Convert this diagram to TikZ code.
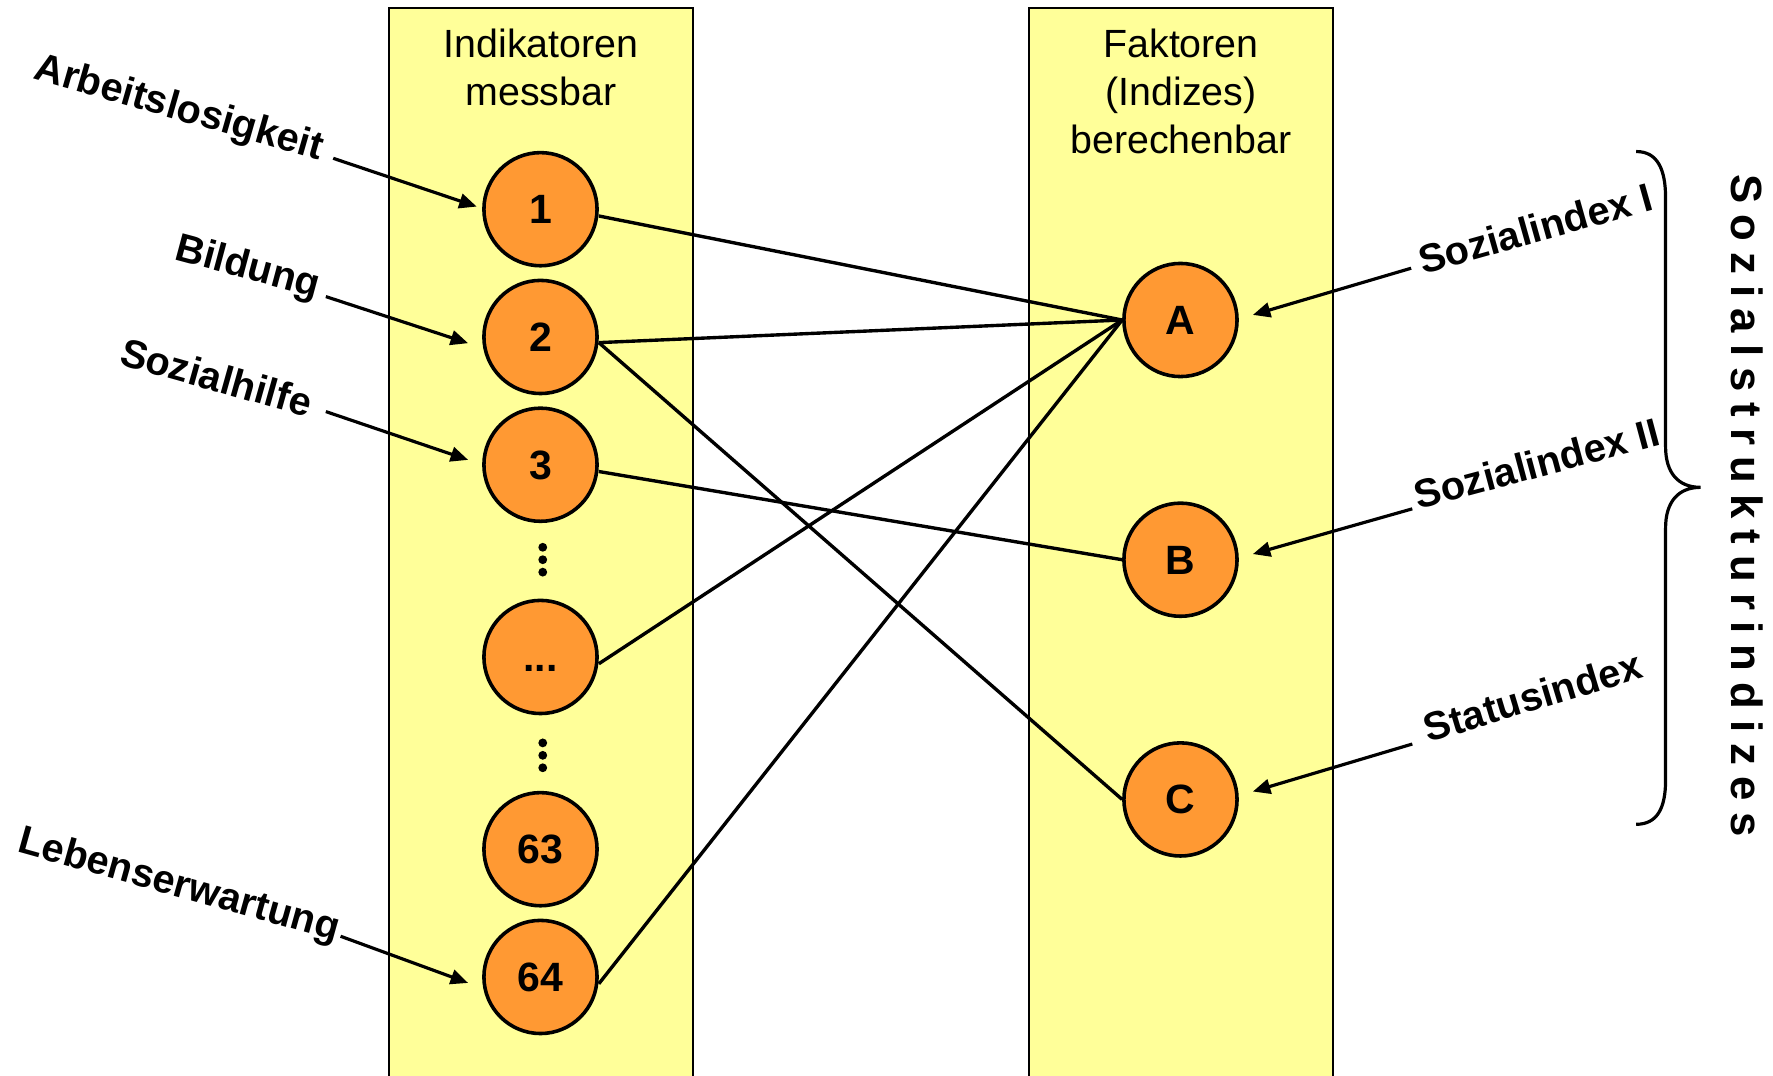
\documentclass[tikz,border=0pt]{standalone}
\usepackage{fontspec}
\setmainfont{Liberation Sans}
\usetikzlibrary{arrows.meta}
\definecolor{colyellow}{HTML}{FFFF99}
\definecolor{circorange}{HTML}{FF9933}
\newcommand{\lsp}{\kern 2.8pt}
\begin{document}
\begin{tikzpicture}[x=0.01cm,y=-0.01cm,
  col/.style={fill=colyellow},
  colborder/.style={line width=0.5pt},
  ind/.style={circle,draw,line width=0.9pt,fill=circorange,minimum size=1cm,inner sep=0pt,
    font=\fontsize{10.3}{11}\selectfont\bfseries,text height=7.3pt,text depth=0pt},
  link/.style={line width=0.85pt},
  lbl/.style={font=\fontsize{10}{11}\selectfont\bfseries,inner sep=0pt,anchor=base west},
  lblarrow/.style={line width=0.8pt,-{Triangle[length=4.4pt,width=3.7pt]}},
  title/.style={font=\fontsize{9.9}{12}\selectfont,align=center,inner sep=0pt,anchor=north},
  dotstyle/.style={circle,fill=black,inner sep=0pt,minimum size=0.078cm},
  bracestyle/.style={line width=0.8pt}
]
\useasboundingbox (0,0) rectangle (1568,951);

% columns
\fill[col] (344,7) rectangle (613,965);
\draw[colborder] (344,965) -- (344,7) -- (613,7) -- (613,965);
\fill[col] (910,7) rectangle (1179,965);
\draw[colborder] (910,965) -- (910,7) -- (1179,7) -- (1179,965);

% titles
\node[title] (t1) at (478.5,25) {Indikatoren\\messbar};
\node[title] (t2) at (1044.5,25) {Faktoren\\(Indizes)\\berechenbar};

% indicator circles
\node[ind] (n1) at (478,185) {1};
\node[ind] (n2) at (478,298) {2};
\node[ind] (n3) at (478,411) {3};
\node[ind] (nd) at (478,581) {...};
\node[ind] (n63) at (478,751) {63};
\node[ind] (n64) at (478,864) {64};

% vertical dots
\node[dotstyle] (d1) at (480,484) {};
\node[dotstyle] (d2) at (480,495) {};
\node[dotstyle] (d3) at (480,506) {};
\node[dotstyle] (d4) at (480,657) {};
\node[dotstyle] (d5) at (480,668) {};
\node[dotstyle] (d6) at (480,679) {};

% factor circles
\node[ind] (A) at (1044,283) {A};
\node[ind] (B) at (1044,495) {B};
\node[ind] (C) at (1044,707) {C};

% links
\draw[link] (n1.east) ++(0,6) -- (A.west);
\draw[link] (n2.east) ++(0,5) -- (A.west);
\draw[link] (n2.east) ++(0,5) -- (C.west);
\draw[link] (n3.east) ++(0,6) -- (B.west);
\draw[link] (nd.east) ++(0,6) -- (A.west);
\draw[link] (n64.east) ++(0,6) -- (A.west);

% left labels
\node[lbl,rotate=-16] (l1) at (28,69) {Arbeitslosigkeit};
\node[lbl,rotate=-15] (l2) at (152.6,229.3) {Bildung};
\node[lbl,rotate=-15.7] (l3) at (103.7,321.8) {Sozialhilfe};
\node[lbl,rotate=-15.6] (l4) at (14,753) {Lebenserwartung};

\coordinate (a1s) at (294.7,140);  \coordinate (a1e) at (421.6,182.7);
\coordinate (a2s) at (288.2,262.3); \coordinate (a2e) at (414,303.5);
\coordinate (a3s) at (288.2,364);  \coordinate (a3e) at (414,406.7);
\coordinate (a4s) at (301.2,828);  \coordinate (a4e) at (414,869.3);
\draw[lblarrow] (a1s) -- (a1e);
\draw[lblarrow] (a2s) -- (a2e);
\draw[lblarrow] (a3s) -- (a3e);
\draw[lblarrow] (a4s) -- (a4e);

% right labels
\node[lbl,rotate=15.7] (r1) at (1258,243) {Sozialindex I};
\node[lbl,rotate=15] (r2) at (1254,451) {Sozialindex II};
\node[lbl,rotate=16.8] (r3) at (1263,657) {Statusindex};

\coordinate (b1s) at (1248,237.2); \coordinate (b1e) at (1108,278.5);
\coordinate (b2s) at (1249,450);   \coordinate (b2e) at (1108,490);
\coordinate (b3s) at (1249,658);   \coordinate (b3e) at (1108,700);
\draw[lblarrow] (b1s) -- (b1e);
\draw[lblarrow] (b2s) -- (b2e);
\draw[lblarrow] (b3s) -- (b3e);

% brace
\draw[bracestyle] (1447,134) .. controls (1466,134) and (1473,150) .. (1473,175)
  -- (1473,395) .. controls (1473,418) and (1484,431) .. (1504,431)
  .. controls (1484,431) and (1473,444) .. (1473,467)
  -- (1473,690) .. controls (1473,714) and (1466,729) .. (1447,729);

% vertical text
\node[font=\fontsize{11}{12}\selectfont\bfseries,rotate=-90,inner sep=0pt] (vt) at (1545,447)
  {S\lsp o\lsp z\lsp i\lsp a\lsp l\lsp s\lsp t\lsp r\lsp u\lsp k\lsp t\lsp u\lsp r\lsp i\lsp n\lsp d\lsp i\lsp z\lsp e\lsp s};
\end{tikzpicture}
\end{document}
